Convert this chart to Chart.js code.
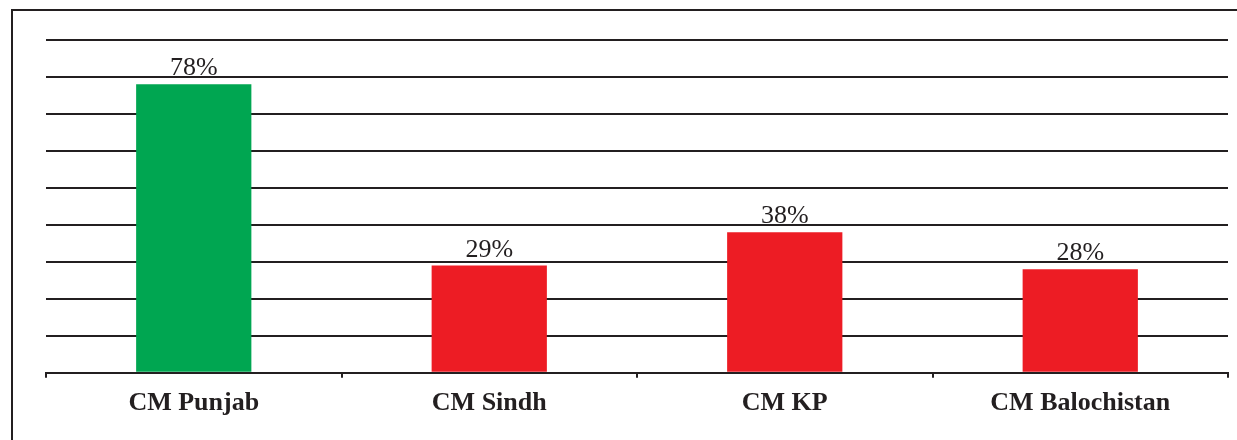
<!DOCTYPE html>
<html>
<head>
<meta charset="utf-8">
<script src="https://cdn.jsdelivr.net/npm/chart.js@4/dist/chart.umd.min.js"></script>
<style>
  body { margin: 0; background: #fff; }
</style>
</head>
<body>
<canvas id="graph" width="1237" height="440"></canvas>
<script>
const categories = ['CM Punjab', 'CM Sindh', 'CM KP', 'CM Balochistan'];
const approval = [78, 29, 38, 28];
const barColors = ['#00a651', '#ed1c24', '#ed1c24', '#ed1c24'];

const ink = '#231f20';

// frame + value labels
const extras = {
  id: 'extras',
  beforeDraw(chart) {
    const c = chart.ctx;
    c.save();
    c.strokeStyle = ink;
    c.lineWidth = 2;
    c.beginPath();
    c.moveTo(12, 440);
    c.lineTo(12, 10);
    c.lineTo(1237, 10);
    c.stroke();
    c.restore();
  },
  afterDatasetsDraw(chart) {
    const c = chart.ctx;
    const meta = chart.getDatasetMeta(0);
    c.save();
    c.fillStyle = ink;
    c.font = '26px "Liberation Serif", serif';
    c.textAlign = 'center';
    c.textBaseline = 'alphabetic';
    meta.data.forEach(function(bar, i) {
      c.fillText(approval[i] + '%', bar.x, bar.y - 9);
    });
    c.restore();
  }
};

new Chart(document.getElementById('graph'), {
  type: 'bar',
  data: {
    labels: categories,
    datasets: [{
      data: approval,
      backgroundColor: barColors,
      barPercentage: 0.39,
      categoryPercentage: 1
    }]
  },
  options: {
    responsive: false,
    animation: false,
    layout: { padding: { left: 46, right: 9, top: 40, bottom: 11 } },
    plugins: { legend: { display: false }, tooltip: { enabled: false } },
    scales: {
      y: {
        min: 0,
        max: 90,
        ticks: { display: false, stepSize: 10 },
        border: { display: false },
        grid: { color: ink, lineWidth: 2, drawTicks: false }
      },
      x: {
        border: { color: ink, width: 2 },
        grid: { display: true, drawOnChartArea: false, color: ink, lineWidth: 2, tickLength: 5, offset: true },
        ticks: {
          color: ink,
          padding: 10,
          font: { family: '"Liberation Serif", serif', size: 26, weight: 'bold' }
        }
      }
    }
  },
  plugins: [extras]
});
</script>
</body>
</html>
